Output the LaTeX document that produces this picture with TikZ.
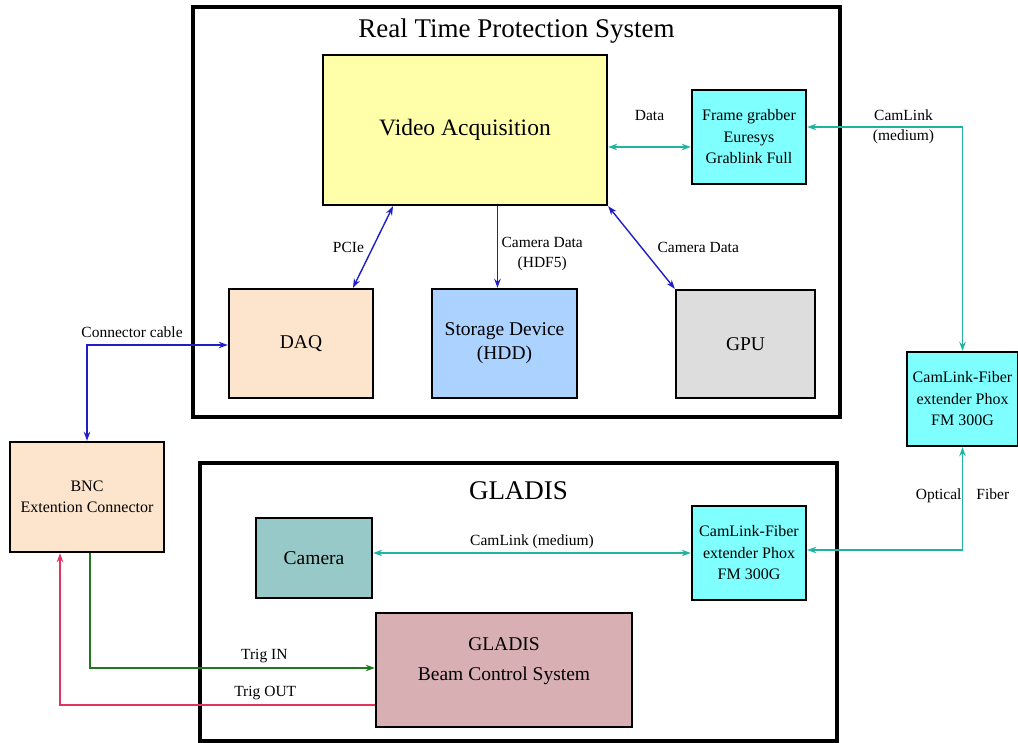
\documentclass[tikz,border=0pt]{standalone}
\usepackage{fontspec}
\setmainfont{Liberation Serif}
\usetikzlibrary{arrows.meta,positioning}

\begin{document}
\begin{tikzpicture}[
            x=1pt,y=-1pt,
            >={Stealth[length=9pt,width=6.5pt]},
            frame/.style={draw,line width=3.2pt},
            wire/.style={line width=1.4pt}
        ]
            \definecolor{yex}{RGB}{255,255,170}
            \definecolor{cyx}{RGB}{128,255,255}
            \definecolor{orx}{RGB}{253,228,204}
            \definecolor{blx}{RGB}{172,210,255}
            \definecolor{grx}{RGB}{221,221,221}
            \definecolor{tex}{RGB}{150,201,199}
            \definecolor{pkx}{RGB}{216,176,180}
            \definecolor{tealw}{RGB}{32,180,160}
            \definecolor{bluew}{RGB}{30,30,200}
            \definecolor{greenw}{RGB}{30,120,30}
            \definecolor{redw}{RGB}{228,50,95}

            \useasboundingbox (0,0) rectangle (1018,743);

            % outer frames
            \node (rtps)   [frame,minimum width=647pt,minimum height=410pt] at (516.5,212) {};
            \node (gladis) [frame,minimum width=637pt,minimum height=278pt] at (518.5,602) {};
            \node [below=10pt of rtps.north,font=\fontsize{27}{32}\selectfont]   {Real Time Protection System};
            \node [below=17pt of gladis.north,font=\fontsize{27}{32}\selectfont] {GLADIS};

            \begin{scope}[
                every node/.style={draw,line width=2.4pt,align=center,font=\fontsize{19.5}{24}\selectfont}
            ]
                \node (va)   [fill=yex,minimum width=284pt,minimum height=150pt,font=\fontsize{23.5}{28}\selectfont] at (465,130) {Video Acquisition};
                \node (daq)  [fill=orx,minimum width=144pt,minimum height=109pt] at (301,343.5) {DAQ};
                \node (hdd)  [fill=blx,minimum width=145pt,minimum height=109pt] at (504.5,343.5) {Storage Device\\(HDD)};
                \node (gpu)  [fill=grx,minimum width=139pt,minimum height=108pt] at (745.5,344) {GPU};
                \node (cam)  [fill=tex,minimum width=116pt,minimum height=80pt]  at (314,558) {Camera};
                \node (gbcs) [fill=pkx,minimum width=256pt,minimum height=114pt,text depth=22pt] at (504,670) {GLADIS\\[6pt]Beam Control System};
            \end{scope}

            \begin{scope}[
                every node/.style={draw,line width=2.4pt,align=center,font=\fontsize{16}{21.5}\selectfont}
            ]
                \node (fg)   [fill=cyx,minimum width=114pt,minimum height=94pt]  at (749,137) {Frame grabber\\Euresys\\Grablink Full};
                \node (extR) [fill=cyx,minimum width=111pt,minimum height=94pt]  at (962.5,399) {CamLink-Fiber\\extender Phox\\FM 300G};
                \node (extL) [fill=cyx,minimum width=114pt,minimum height=94pt]  at (749,553) {CamLink-Fiber\\extender Phox\\FM 300G};
                \node (bnc)  [fill=orx,minimum width=154pt,minimum height=110pt] at (87,497) {BNC\\Extention Connector};
            \end{scope}

            \begin{scope}[
                every node/.style={text=black,font=\fontsize{15.5}{20}\selectfont,align=center}
            ]
                \draw [wire,tealw,<->] ([yshift=-10pt]fg.west) -- node[above=22pt]{Data}             ([yshift=-17pt]va.east);
                \draw [wire,tealw,<->] ([yshift=10pt]fg.east)  -| node[pos=0.31]{CamLink\\(medium)}  (extR.north);
                \draw [wire,tealw,<->] (extR.south)            |- node[pos=0.235]{Optical\hspace{15pt}Fiber} ([yshift=3pt]extL.east);
                \draw [wire,tealw,<->] (cam.east |- extL.west) -- node[above]{CamLink (medium)}      (extL.west);
                \draw [wire,bluew,<->] ([xshift=-72pt]va.south) -- node[left=5pt]{PCIe}              ([xshift=52pt]daq.north);
                \draw [wire,bluew,->]  ([xshift=-7pt]hdd.north |- va.south) -- node[pos=0.58,right]{Camera Data\\(HDF5)} ([xshift=-7pt]hdd.north);
                \draw [wire,bluew,<->] (va.south east)          -- node[right=12pt]{Camera Data}     (gpu.north west);
                \draw [wire,bluew,<->] ([yshift=-1.5pt]daq.west) -| node[pos=0.34,above=3pt]{Connector cable} (bnc.north);
                \draw [wire,greenw,->] ([xshift=3pt]bnc.south)  |- node[pos=0.806,above=1pt]{Trig IN} ([yshift=2pt]gbcs.west);
                \draw [wire,redw,->]   ([yshift=-35pt]gbcs.west) -| node[pos=0.174,above=1pt]{Trig OUT} ([xshift=-27pt]bnc.south);
            \end{scope}
        \end{tikzpicture}
\end{document}
